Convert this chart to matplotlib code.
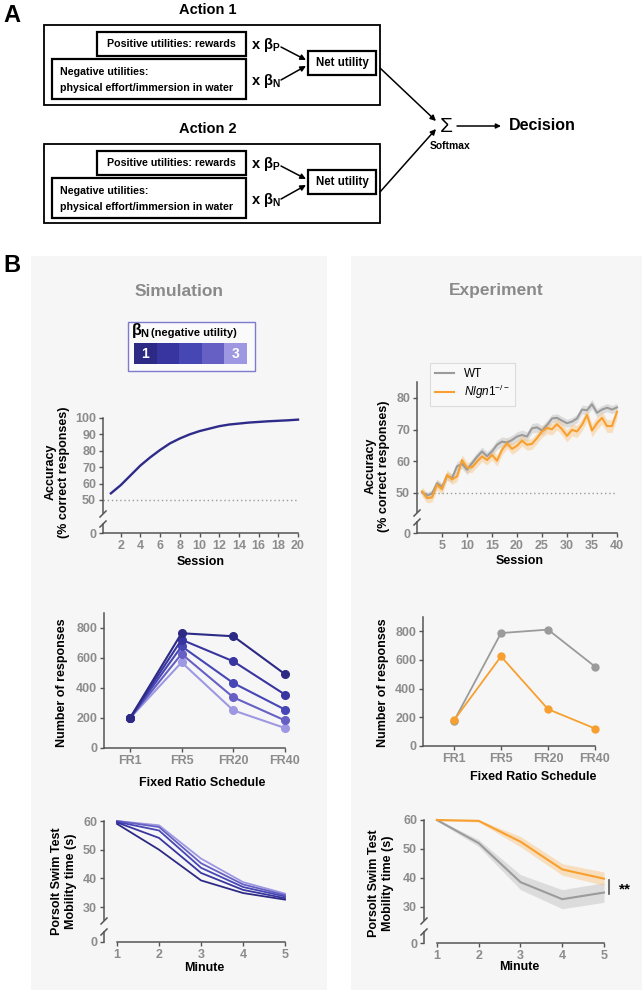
import matplotlib
matplotlib.use('Agg')
import matplotlib.pyplot as plt
from matplotlib.patches import Rectangle, FancyArrowPatch

plt.rcParams['font.family'] = ['Liberation Sans', 'DejaVu Sans']
plt.rcParams['font.weight'] = 'bold'
plt.rcParams['mathtext.fontset'] = 'custom'
plt.rcParams['mathtext.rm'] = 'Liberation Sans:style=normal:weight=normal'
plt.rcParams['mathtext.bf'] = 'Liberation Sans:bold'
plt.rcParams['mathtext.it'] = 'Liberation Sans:style=italic:weight=normal'

# ---------------- data ----------------
sessions_sim = list(range(1, 21))
acc_sim = [54, 59, 65, 71, 76, 80.5, 84.5, 87.5, 90, 92, 93.5, 95, 96, 96.6,
           97.2, 97.6, 98, 98.3, 98.6, 99]

sessions_exp = list(range(1, 41))
acc_wt = [50.2, 49.2, 49.8, 53.1, 51.9, 55.4, 54.7, 58.4, 59.2, 57.3,
          59.4, 61.4, 63.1, 61.6, 63.1, 65.2, 66.2, 65.9, 66.7, 67.8,
          68.3, 67.8, 70.4, 70.7, 69.7, 71.4, 73.5, 73.7, 72.8, 72.0,
          72.5, 73.5, 76.3, 76.1, 78.0, 75.3, 76.3, 76.9, 76.3, 77.0]
acc_wt_sem = [1.0, 1.0, 1.2, 1.2, 1.2, 1.3, 1.3, 1.5, 1.5, 1.5,
              1.4, 1.4, 1.4, 1.4, 1.4, 1.5, 1.5, 1.5, 1.5, 1.5,
              1.5, 1.5, 1.5, 1.5, 1.5, 1.5, 1.3, 1.3, 1.3, 1.3,
              1.3, 1.3, 1.4, 1.4, 1.5, 1.3, 1.3, 1.3, 1.3, 1.3]
acc_nl = [50.5, 48.4, 48.6, 52.6, 51.2, 55.7, 54.3, 55.2, 60.4, 58.0,
          58.1, 59.9, 61.5, 60.4, 62.0, 60.2, 63.6, 65.7, 63.9, 64.9,
          66.5, 65.2, 65.5, 67.3, 69.4, 70.5, 70.1, 71.7, 70.1, 68.0,
          69.9, 69.4, 71.5, 74.6, 69.7, 72.0, 73.7, 71.1, 71.1, 75.6]
acc_nl_sem = [1.5, 1.5, 1.5, 1.6, 1.6, 1.6, 1.6, 1.6, 1.7, 1.7,
              1.6, 1.6, 1.6, 1.6, 1.6, 1.7, 1.7, 1.7, 1.7, 1.7,
              1.7, 1.7, 1.7, 1.7, 1.8, 1.8, 1.8, 1.8, 1.9, 1.9,
              1.9, 1.9, 1.9, 2.0, 2.0, 2.0, 2.0, 2.0, 2.0, 2.0]

fr_labels = ['FR1', 'FR5', 'FR20', 'FR40']
beta_labels = ['1', '', '', '', '3']
fr_sim_b1 = [198, 765, 745, 492]
fr_sim_b2 = [198, 722, 578, 356]
fr_sim_b3 = [198, 678, 433, 256]
fr_sim_b4 = [198, 627, 338, 184]
fr_sim_b5 = [198, 571, 251, 133]
fr_sim = [fr_sim_b1, fr_sim_b2, fr_sim_b3, fr_sim_b4, fr_sim_b5]

fr_wt = [175, 788, 812, 554]
fr_nl = [180, 625, 257, 122]

minutes = [1, 2, 3, 4, 5]
fst_sim_b1 = [59.0, 50.0, 39.3, 34.9, 32.6]
fst_sim_b2 = [59.5, 54.1, 41.9, 36.0, 33.1]
fst_sim_b3 = [59.7, 56.7, 43.7, 37.0, 33.7]
fst_sim_b4 = [60.0, 57.9, 45.3, 37.9, 34.2]
fst_sim_b5 = [60.0, 58.5, 46.9, 38.7, 34.7]
fst_sim = [fst_sim_b1, fst_sim_b2, fst_sim_b3, fst_sim_b4, fst_sim_b5]

fst_wt = [60.0, 52.0, 38.5, 32.6, 34.9]
fst_wt_sem = [0.3, 1.2, 2.6, 3.3, 3.4]
fst_nl = [60.0, 59.7, 52.5, 42.9, 39.7]
fst_nl_sem = [0.2, 0.4, 1.8, 2.0, 2.3]

# ---------------- style ----------------
beta_colors = ['#2c2a84', '#3835a0', '#4646b4', '#6660c4', '#9e98e2']
sim_acc_color = '#2e2b8a'
wt_color = '#9b9b9b'
nl_color = '#f7a030'
tick_lab_col = '#8c8c8c'
spine_col = '#555555'
panel_col = '#f6f6f6'
dfont = ['Liberation Sans', 'DejaVu Sans']

W, H = 644, 994
fig = plt.figure(figsize=(W / 100, H / 100), dpi=100)

bg = fig.add_axes([0, 0, 1, 1], zorder=0)
bg.set_xlim(0, W)
bg.set_ylim(H, 0)
bg.axis('off')


def px_axes(l, t, r, b):
    ax = fig.add_axes([l / W, 1 - b / H, (r - l) / W, (b - t) / H], zorder=2)
    ax.set_facecolor('none')
    for s in ('top', 'right'):
        ax.spines[s].set_visible(False)
    for s in ('left', 'bottom'):
        ax.spines[s].set_color(spine_col)
        ax.spines[s].set_linewidth(1.1)
    ax.tick_params(color=spine_col, labelcolor=tick_lab_col, labelsize=9,
                   length=3, width=1, pad=2)
    return ax


def broken(l, r, t_up, b_up, t_lo, b_lo, ylim_up, ylim_lo, xlim):
    up = px_axes(l, t_up, r, b_up)
    lo = px_axes(l, t_lo, r, b_lo)
    for ax in (up, lo):
        ax.set_xlim(*xlim)
    up.spines['bottom'].set_visible(False)
    up.tick_params(axis='x', bottom=False, labelbottom=False)
    up.set_ylim(*ylim_up)
    lo.set_ylim(*ylim_lo)
    lo.set_yticks([0])
    # break marks
    bg.plot([l - 3, l + 3], [b_up + 4, b_up - 2], color=spine_col, lw=1.1)
    bg.plot([l - 3, l + 3], [t_lo + 3, t_lo - 3], color=spine_col, lw=1.1)
    return up, lo


def box(x0, y0, x1, y1, lw=1.6):
    bg.add_patch(Rectangle((x0, y0), x1 - x0, y1 - y0, fill=False,
                           ec='black', lw=lw))


def arrow(p0, p1, lw=1.1, ms=8):
    bg.add_patch(FancyArrowPatch(p0, p1, arrowstyle='-|>', mutation_scale=ms,
                                 color='black', lw=lw, shrinkA=0, shrinkB=0))


# ---------------- panel A: diagram ----------------
bg.text(3, 15, 'A', fontsize=17, fontweight='bold', va='center', ha='left')
for k, (ytop, title) in enumerate([(25, 'Action 1'), (144, 'Action 2')]):
    dy = ytop - 25
    bg.text(208, 10 + dy, title, fontsize=10.5, family=dfont,
            ha='center', va='center')
    box(44, 25 + dy, 380, 105 + dy - (1 if k else 0), lw=1.3)
    box(97, 32 + dy, 246, 56 + dy)
    box(52, 59 + dy, 246, 99 + dy)
    box(308, 51 + dy, 376, 75 + dy)
    bg.text(171, 44 + dy, 'Positive utilities: rewards', fontsize=7.7,
            family=dfont, ha='center', va='center')
    bg.text(60, 72 + dy, 'Negative utilities:', fontsize=7.7,
            family=dfont, ha='left', va='center')
    bg.text(60, 88 + dy, 'physical effort/immersion in water', fontsize=7.7,
            family=dfont, ha='left', va='center')
    bg.text(251, 45 + dy, r'x $\mathbf{\beta}_{\mathbf{P}}$', fontsize=10.5,
            family=dfont, ha='left', va='center')
    bg.text(251, 81 + dy, r'x $\mathbf{\beta}_{\mathbf{N}}$', fontsize=10.5,
            family=dfont, ha='left', va='center')
    arrow((281, 47 + dy), (306, 60 + dy))
    arrow((281, 80 + dy), (306, 66 + dy))
    bg.text(342, 63 + dy, 'Net utility', fontsize=8.3, family=dfont,
            ha='center', va='center')

arrow((380, 68), (436, 121))
arrow((380, 192), (436, 129))
bg.text(446, 126, 'Σ', fontsize=15, fontweight='normal', ha='center',
        va='center')
arrow((457, 126), (501, 126), ms=7)
bg.text(509, 126, 'Decision', fontsize=11.5, family=dfont, ha='left',
        va='center')
bg.text(450, 146, 'Softmax', fontsize=7.5, family=dfont, ha='center',
        va='center')

# ---------------- panel B backgrounds ----------------
bg.text(3, 266, 'B', fontsize=17, fontweight='bold', va='center', ha='left')
bg.add_patch(Rectangle((31, 256), 296, 734, fc=panel_col, ec='none'))
bg.add_patch(Rectangle((351, 256), 291, 734, fc=panel_col, ec='none'))
bg.text(179, 291, 'Simulation', fontsize=12.5, color='#8a8a8a',
        ha='center', va='center')
bg.text(496, 291, 'Experiment', fontsize=12.5, color='#8a8a8a',
        ha='center', va='center')

# beta_N legend
bg.add_patch(Rectangle((128, 322), 127, 49, fc='#fafafa', ec='#7e7ad0',
                       lw=1))
bg.text(131, 331, r'$\mathbf{\beta}_{\mathbf{N}}$', fontsize=11.5,
        ha='left', va='center')
bg.text(151, 333, '(negative utility)', fontsize=8, ha='left', va='center')
cw = (247 - 134) / len(beta_colors)
for i, c in enumerate(beta_colors):
    bg.add_patch(Rectangle((134 + i * cw, 343), cw, 21, fc=c, ec='none'))
    if beta_labels[i]:
        bg.text(134 + (i + 0.5) * cw, 353.5, beta_labels[i], color='white',
                fontsize=10, ha='center', va='center')

# ---------------- Simulation accuracy ----------------
up, lo = broken(103, 298, 418, 513, 524, 533, (42, 100), (0, 5.5),
                (0.2, 20))
up.plot(sessions_sim, acc_sim, color=sim_acc_color, lw=1.7, clip_on=False)
up.axhline(50, color='#9a9a9a', lw=1, ls=(0, (1, 2)))
up.set_yticks([50, 60, 70, 80, 90, 100])
lo.set_xticks(list(range(2, 21, 2)))
bg.text(57, 472, 'Accuracy\n(% correct responses)', rotation=90,
        fontsize=9, ha='center', va='center', linespacing=1.15)
bg.text(201, 562, 'Session', fontsize=9, ha='center', va='center')

# ---------------- Experiment accuracy ----------------
up2, lo2 = broken(417, 617, 382, 512, 522, 533, (44, 85), (0, 3.4),
                  (0, 40))
lo_wt = [m - s for m, s in zip(acc_wt, acc_wt_sem)]
hi_wt = [m + s for m, s in zip(acc_wt, acc_wt_sem)]
lo_nl = [m - s for m, s in zip(acc_nl, acc_nl_sem)]
hi_nl = [m + s for m, s in zip(acc_nl, acc_nl_sem)]
up2.axhline(50, color='#9a9a9a', lw=1, ls=(0, (1, 2)))
up2.fill_between(sessions_exp, lo_wt, hi_wt, color='#c8c8c8', alpha=0.55,
                 lw=0)
up2.fill_between(sessions_exp, lo_nl, hi_nl, color='#f9c27a', alpha=0.45,
                 lw=0)
l_wt, = up2.plot(sessions_exp, acc_wt, color=wt_color, lw=1.5,
                 clip_on=False, label='WT')
l_nl, = up2.plot(sessions_exp, acc_nl, color=nl_color, lw=1.5,
                 clip_on=False, label=r'$\mathit{Nlgn1}^{-/-}$')
up2.set_yticks([50, 60, 70, 80])
lo2.set_xticks(list(range(5, 41, 5)))
leg = up2.legend(handles=[l_wt, l_nl], loc='upper left',
                 bbox_to_anchor=(430 / W, 1 - 363 / H),
                 bbox_transform=fig.transFigure, borderaxespad=0,
                 frameon=True, fancybox=False, edgecolor='#dcdcdc',
                 facecolor='#f8f8f8', framealpha=1, handlelength=1.6,
                 handletextpad=0.9, labelspacing=0.25, borderpad=0.4,
                 prop={'size': 8.5, 'weight': 'normal'})
leg.get_frame().set_linewidth(0.8)
bg.text(377, 466, 'Accuracy\n(% correct responses)', rotation=90,
        fontsize=9, ha='center', va='center', linespacing=1.15)
bg.text(520, 561, 'Session', fontsize=9, ha='center', va='center')

# ---------------- Simulation FR ----------------
ax = px_axes(104, 613, 285, 748)
x_fr = list(range(1, len(fr_labels) + 1))
for vals, c in reversed(list(zip(fr_sim, beta_colors))):
    ax.plot(x_fr, vals, color=c, lw=1.5, marker='o', ms=5.5, clip_on=False)
ax.set_xlim(0.5, 4)
ax.set_ylim(0, 900)
ax.set_yticks([0, 200, 400, 600, 800])
ax.set_xticks(x_fr)
ax.set_xticklabels(fr_labels)
bg.text(62, 683, 'Number of responses', rotation=90, fontsize=9,
        ha='center', va='center')
bg.text(202, 783, 'Fixed Ratio Schedule', fontsize=9, ha='center',
        va='center')

# ---------------- Experiment FR ----------------
ax = px_axes(423, 617, 595, 746)
ax.plot(x_fr, fr_wt, color=wt_color, lw=1.3, marker='o', ms=5,
        clip_on=False)
ax.plot(x_fr, fr_nl, color=nl_color, lw=1.3, marker='o', ms=5,
        clip_on=False)
ax.set_xlim(0.34, 4)
ax.set_ylim(0, 900)
ax.set_yticks([0, 200, 400, 600, 800])
ax.set_xticks(x_fr)
ax.set_xticklabels(fr_labels)
bg.text(383, 683, 'Number of responses', rotation=90, fontsize=9,
        ha='center', va='center')
bg.text(533, 777, 'Fixed Ratio Schedule', fontsize=9, ha='center',
        va='center')

# ---------------- Simulation Porsolt ----------------
up3, lo3 = broken(104, 285, 821, 920, 932, 942, (25.5, 60), (0, 3.5),
                  (0.69, 5))
for vals, c in reversed(list(zip(fst_sim, beta_colors))):
    up3.plot(minutes, vals, color=c, lw=1.3, clip_on=False)
up3.set_yticks([30, 40, 50, 60])
lo3.set_xticks(minutes)
lo3.spines['bottom'].set_bounds(1, 5)
bg.text(64, 881, 'Porsolt Swim Test\nMobility time (s)', rotation=90,
        fontsize=9, ha='center', va='center', linespacing=1.15)
bg.text(204, 968, 'Minute', fontsize=9, ha='center', va='center')

# ---------------- Experiment Porsolt ----------------
up4, lo4 = broken(424, 604, 820, 920, 932, 943, (25.4, 60), (0, 3.8),
                  (0.69, 5))
up4.fill_between(minutes, [m - s for m, s in zip(fst_wt, fst_wt_sem)],
                 [m + s for m, s in zip(fst_wt, fst_wt_sem)],
                 color='#c8c8c8', alpha=0.55, lw=0)
up4.fill_between(minutes, [m - s for m, s in zip(fst_nl, fst_nl_sem)],
                 [m + s for m, s in zip(fst_nl, fst_nl_sem)],
                 color='#f9c27a', alpha=0.45, lw=0)
up4.plot(minutes, fst_wt, color=wt_color, lw=1.5, clip_on=False)
up4.plot(minutes, fst_nl, color=nl_color, lw=1.5, clip_on=False)
up4.set_yticks([30, 40, 50, 60])
lo4.set_xticks(minutes)
lo4.spines['bottom'].set_bounds(1, 5)
bg.plot([609, 609], [880, 894], color='#555555', lw=1.2)
bg.text(625, 889, '**', fontsize=11, ha='center', va='center')
bg.text(381, 883, 'Porsolt Swim Test\nMobility time (s)', rotation=90,
        fontsize=9, ha='center', va='center', linespacing=1.15)
bg.text(519, 967, 'Minute', fontsize=9, ha='center', va='center')

fig.savefig('out.png', dpi=100)
